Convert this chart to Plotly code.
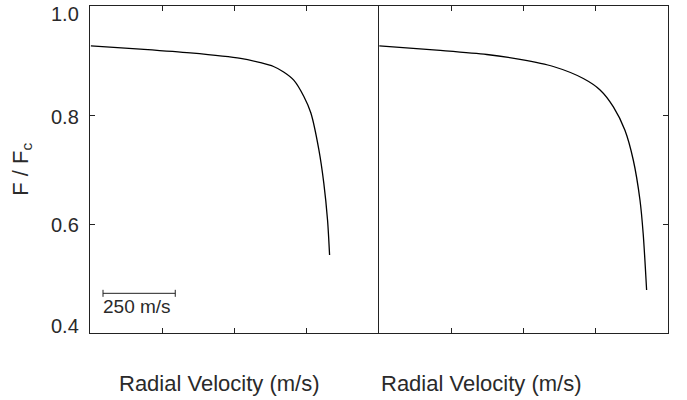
import plotly.graph_objects as go

# Left panel profile (radial velocity in m/s, normalised flux)
left_v = [3, 174, 347, 521, 590, 635, 670, 705, 740, 764, 792, 809, 822, 829]
left_f = [0.927, 0.921, 0.914, 0.904, 0.896, 0.889, 0.879, 0.864, 0.834, 0.804, 0.736, 0.675, 0.607, 0.543]

# Right panel profile
right_v = [1, 200, 373, 488, 603, 707, 765, 811, 851, 880, 903, 914, 926]
right_f = [0.927, 0.919, 0.911, 0.902, 0.889, 0.867, 0.846, 0.815, 0.772, 0.717, 0.644, 0.583, 0.479]

x_ticks = [250, 500, 750]
y_ticks = [0.4, 0.6, 0.8, 1.0]
y_tick_labels = ["0.4", "0.6", "0.8", "1.0"]

scale_v = [45, 295]
scale_f = [0.4728, 0.4728]
scale_label = "250 m/s"
x_title = "Radial Velocity (m/s)"
y_title = "F / F<sub>c</sub>"

FONT = "Liberation Sans"
AX = "#222222"
TXT = "#2a2a2a"

fig = go.Figure()
fig.add_trace(go.Scatter(x=left_v, y=left_f, mode="lines",
                         line=dict(color="black", width=1.3, shape="spline", smoothing=0.8),
                         xaxis="x", yaxis="y", showlegend=False, hoverinfo="skip"))
fig.add_trace(go.Scatter(x=right_v, y=right_f, mode="lines",
                         line=dict(color="black", width=1.3, shape="spline", smoothing=0.8),
                         xaxis="x2", yaxis="y2", showlegend=False, hoverinfo="skip"))
fig.add_trace(go.Scatter(x=scale_v, y=scale_f, mode="lines+markers",
                         line=dict(color=AX, width=1),
                         marker=dict(symbol="line-ns-open", size=5, color=AX, line=dict(width=1, color=AX)),
                         xaxis="x", yaxis="y", showlegend=False, hoverinfo="skip"))

xcommon = dict(range=[0, 1000], tickvals=x_ticks, showticklabels=False, ticks="inside",
               ticklen=5, tickcolor=AX, tickwidth=1, showline=True, linecolor=AX, linewidth=1,
               mirror="ticks", showgrid=False, zeroline=False)

YR = [0.4, 1.0]

annotations = [
    dict(text=x_title, xref="paper", yref="paper", x=0.224, y=-0.153,
         showarrow=False, xanchor="center", yanchor="middle",
         font=dict(family=FONT, size=22, color=TXT)),
    dict(text=x_title, xref="paper", yref="paper", x=0.6765, y=-0.153,
         showarrow=False, xanchor="center", yanchor="middle",
         font=dict(family=FONT, size=22, color=TXT)),
    dict(text=y_title, xref="paper", yref="paper", x=-0.119, y=0.5,
         showarrow=False, textangle=-90, xanchor="center", yanchor="middle",
         font=dict(family=FONT, size=22, color=TXT)),
    dict(text=scale_label, xref="x", yref="y", x=scale_v[0], y=0.448, xshift=-2,
         showarrow=False, xanchor="left", yanchor="middle",
         font=dict(family=FONT, size=19, color=TXT)),
]
# y tick labels (nudged inward at the ends, as in the original)
label_shift = [7.5, -1, -2, -7.5]
for val, lab, dy in zip(y_ticks, y_tick_labels, label_shift):
    annotations.append(dict(text=lab, xref="paper", yref="y", x=-0.0155, y=val, yshift=dy,
                            showarrow=False, xanchor="right", yanchor="middle",
                            font=dict(family=FONT, size=20, color=TXT)))

fig.update_layout(
    width=687, height=400,
    margin=dict(l=90, r=19, t=6, b=67),
    paper_bgcolor="white", plot_bgcolor="white",
    font=dict(family=FONT, color=TXT, size=19),
    xaxis=dict(domain=[0, 0.5], anchor="y", **xcommon),
    xaxis2=dict(domain=[0.5, 1], anchor="y2", **xcommon),
    yaxis=dict(anchor="x", range=YR, tickvals=y_ticks, showticklabels=False,
               ticks="inside", ticklen=5, tickcolor=AX, tickwidth=1,
               showline=True, linecolor=AX, linewidth=1, mirror=False,
               showgrid=False, zeroline=False),
    yaxis2=dict(anchor="x2", side="right", range=YR, tickvals=y_ticks,
                showticklabels=False, ticks="inside", ticklen=5, tickcolor=AX, tickwidth=1,
                showline=True, linecolor=AX, linewidth=1, mirror=True,
                showgrid=False, zeroline=False),
    annotations=annotations,
)

fig.write_html("out.html")
